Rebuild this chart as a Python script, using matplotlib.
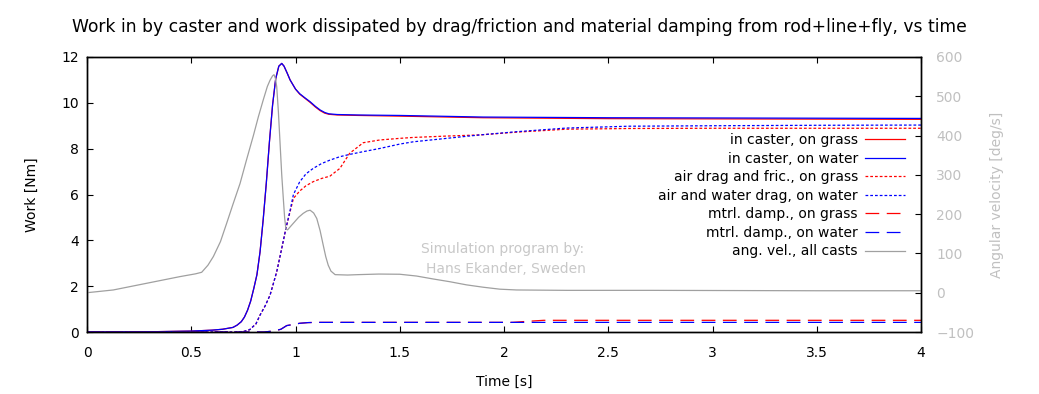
import matplotlib
matplotlib.use("Agg")
import matplotlib.pyplot as plt
from matplotlib.lines import Line2D

# ---------------- data ----------------
t_caster = [0, 0.3, 0.5, 0.6, 0.65, 0.7, 0.72, 0.74, 0.755, 0.77, 0.785, 0.80, 0.815, 0.83,
            0.845, 0.86, 0.875, 0.89, 0.905, 0.92, 0.934, 0.945, 0.96, 0.974, 1.0, 1.02,
            1.045, 1.07, 1.095, 1.118, 1.14, 1.16, 1.2, 1.3, 1.5, 1.9, 2.5, 3.0, 3.5, 4.0]
caster_water = [0, 0.01, 0.04, 0.08, 0.12, 0.2, 0.3, 0.45, 0.65, 0.95, 1.35, 1.9, 2.5, 3.5,
                4.9, 6.5, 8.3, 9.9, 11.05, 11.6, 11.72, 11.6, 11.3, 11.0, 10.6, 10.4,
                10.22, 10.05, 9.85, 9.69, 9.58, 9.52, 9.49, 9.47, 9.45, 9.38, 9.35, 9.34,
                9.33, 9.32]
caster_grass = [0, 0.01, 0.04, 0.08, 0.12, 0.2, 0.3, 0.45, 0.65, 0.95, 1.35, 1.9, 2.5, 3.5,
                4.9, 6.5, 8.3, 9.9, 11.05, 11.6, 11.72, 11.6, 11.3, 11.0, 10.6, 10.38,
                10.2, 10.02, 9.82, 9.66, 9.55, 9.5, 9.47, 9.45, 9.42, 9.35, 9.31, 9.3,
                9.29, 9.28]

t_drag = [0, 0.7, 0.75, 0.78, 0.81, 0.83, 0.855, 0.878, 0.91, 0.934, 0.954, 0.974, 0.99,
          1.02, 1.05, 1.085, 1.125, 1.165, 1.213, 1.26, 1.325, 1.405, 1.5, 1.565, 1.725,
          1.885, 2.06, 2.3, 2.6, 3.0, 3.5, 4.0]
drag_water = [0, 0, 0.02, 0.1, 0.35, 0.74, 1.15, 1.61, 2.63, 3.65, 4.52, 5.3, 6.0,
              6.55, 6.9, 7.14, 7.35, 7.5, 7.65, 7.75, 7.87, 8.01, 8.2, 8.3, 8.45,
              8.6, 8.74, 8.9, 8.98, 9.0, 9.02, 9.03]
drag_grass = [0, 0, 0.02, 0.1, 0.35, 0.74, 1.15, 1.61, 2.63, 3.65, 4.52, 5.25, 5.83,
              6.15, 6.38, 6.56, 6.7, 6.8, 7.14, 7.8, 8.26, 8.38, 8.45, 8.49, 8.55,
              8.6, 8.72, 8.85, 8.88, 8.89, 8.89, 8.89]

t_damp = [0, 0.85, 0.9, 0.93, 0.958, 0.99, 1.02, 1.06, 1.1, 1.5, 2.04, 2.12, 2.19, 2.5, 3.0, 4.0]
damp_water = [0, 0, 0.05, 0.12, 0.28, 0.33, 0.38, 0.41, 0.42, 0.42, 0.42, 0.42, 0.42, 0.42, 0.42, 0.42]
damp_grass = [0, 0, 0.05, 0.12, 0.28, 0.33, 0.38, 0.41, 0.42, 0.42, 0.42, 0.47, 0.51, 0.51, 0.51, 0.51]

t_angvel = [0, 0.126, 0.286, 0.446, 0.52, 0.55, 0.58, 0.606, 0.64, 0.67, 0.70, 0.734, 0.765,
            0.798, 0.822, 0.846, 0.865, 0.878, 0.89, 0.897, 0.904, 0.91, 0.918, 0.926,
            0.934, 0.942, 0.948, 0.954, 0.962, 0.975, 0.99, 1.015, 1.037, 1.055, 1.07,
            1.087, 1.102, 1.118, 1.133, 1.145, 1.157, 1.17, 1.19, 1.25, 1.3, 1.4, 1.5,
            1.58, 1.66, 1.74, 1.82, 1.9, 1.98, 2.06, 2.3, 2.7, 3.5, 4.0]
angvel = [0, 7, 24, 41, 48, 52, 70, 92, 130, 177, 225, 278, 338, 400, 448, 492, 525, 541,
          552, 555, 545, 524, 460, 380, 300, 236, 190, 162, 160, 168, 177, 192, 202, 208,
          210, 203, 189, 158, 121, 92, 70, 55, 46, 45, 46, 47.5, 47, 42.5, 35, 28, 20, 14,
          9, 7, 6, 6, 5, 5]

labels = ["in caster, on grass", "in caster, on water", "air drag and fric., on grass",
          "air and water drag, on water", "mtrl. damp., on grass", "mtrl. damp., on water",
          "ang. vel., all casts"]

# ---------------- figure ----------------
W, H = 1039, 394
fig = plt.figure(figsize=(W / 100, H / 100), dpi=100)
ax = fig.add_axes([87 / W, 1 - 332 / H, (921 - 87) / W, (332 - 57) / H])
ax2 = ax.twinx()

RED, BLUE, GRAY = "#ff0000", "#0000ff", "#a0a0a0"
dot = (0, (2.2, 1.6))
dash = (0, (11, 6))
lw = 0.9

ax.plot(t_caster, caster_grass, color=RED, lw=lw)
ax.plot(t_caster, caster_water, color=BLUE, lw=lw)
ax.plot(t_drag, drag_grass, color=RED, lw=lw, linestyle=dot)
ax.plot(t_drag, drag_water, color=BLUE, lw=lw, linestyle=dot)
ax.plot(t_damp, damp_grass, color=RED, lw=lw, linestyle=dash)
ax.plot(t_damp, damp_water, color=BLUE, lw=lw, linestyle=dash)
ax2.plot(t_angvel, angvel, color=GRAY, lw=lw)

ax.set_xlim(0, 4)
ax.set_ylim(0, 12)
ax2.set_ylim(-100, 600)
ax.set_xticks([0, 0.5, 1, 1.5, 2, 2.5, 3, 3.5, 4])
ax.set_xticklabels(["0", "0.5", "1", "1.5", "2", "2.5", "3", "3.5", "4"])
ax.set_yticks(range(0, 13, 2))
ax2.set_yticks(range(-100, 601, 100))

fs = 10
ax.tick_params(axis="both", direction="in", length=4, labelsize=fs, top=True, width=0.8)
ax.tick_params(axis="x", pad=10)
ax.tick_params(axis="y", pad=6)
ax2.tick_params(axis="y", direction="in", length=4, labelsize=fs, colors="#c0c0c0",
                width=0.8, pad=11)
ax2.tick_params(axis="y", color="black")
for sp in ax.spines.values():
    sp.set_linewidth(1.0)
for sp in ax2.spines.values():
    sp.set_linewidth(1.0)

ax.set_xlabel("Time [s]", fontsize=fs, labelpad=11)
ax.set_ylabel("Work [Nm]", fontsize=fs, labelpad=16)
ax2.set_ylabel("Angular velocity [deg/s]", fontsize=fs, color="#c0c0c0", labelpad=11)
fig.text(0.5, 1 - 27 / H, "Work in by caster and work dissipated by drag/friction and "
         "material damping from rod+line+fly, vs time", fontsize=12.3,
         ha="center", va="center")

fig.text(503 / W, 1 - 249 / H, "Simulation program by:", color="#c8c8c8",
         fontsize=fs, ha="center", va="center")
fig.text(506 / W, 1 - 269 / H, "Hans Ekander, Sweden", color="#c8c8c8",
         fontsize=fs, ha="center", va="center")

handles = [
    Line2D([], [], color=RED, lw=lw),
    Line2D([], [], color=BLUE, lw=lw),
    Line2D([], [], color=RED, lw=lw, linestyle=dot),
    Line2D([], [], color=BLUE, lw=lw, linestyle=dot),
    Line2D([], [], color=RED, lw=lw, linestyle=dash),
    Line2D([], [], color=BLUE, lw=lw, linestyle=dash),
    Line2D([], [], color=GRAY, lw=lw),
]
leg = ax2.legend(handles, labels, loc="upper right", frameon=False, markerfirst=False,
                 fontsize=fs, handlelength=2.85, handletextpad=0.55, labelspacing=0.33,
                 bbox_to_anchor=(905 / W, 1 - 133 / H), bbox_transform=fig.transFigure,
                 borderaxespad=0, borderpad=0)
for txt in leg.get_texts():
    txt.set_ha("right")
leg._legend_box.align = "right"

fig.savefig("out.png", dpi=100)
